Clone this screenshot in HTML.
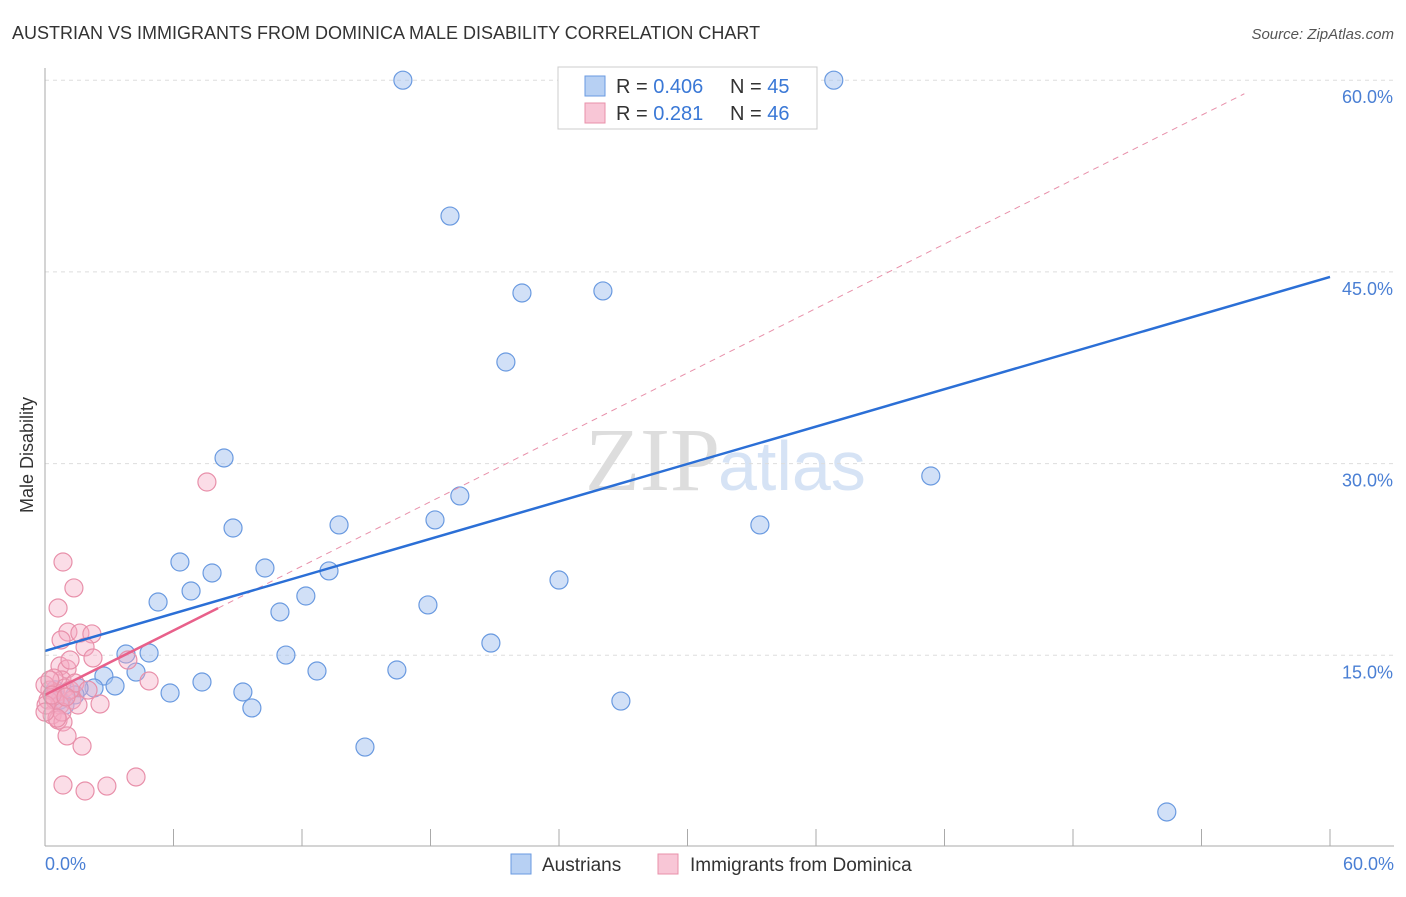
<!DOCTYPE html>
<html><head><meta charset="utf-8"><style>
body{margin:0;background:#fff;font-family:"Liberation Sans",sans-serif;}
</style></head><body>
<svg width="1406" height="892" xmlns="http://www.w3.org/2000/svg" id="chart" style="font-family:'Liberation Sans',sans-serif">
<text x="12" y="39" font-size="18" fill="#333">AUSTRIAN VS IMMIGRANTS FROM DOMINICA MALE DISABILITY CORRELATION CHART</text>
<text x="1394" y="39" font-size="15" fill="#555" text-anchor="end" font-style="italic">Source: ZipAtlas.com</text>
<text x="33" y="455" font-size="18" fill="#333" text-anchor="middle" transform="rotate(-90 33 455)">Male Disability</text>
<text x="720" y="490" font-size="90" fill="#ddd" text-anchor="end" font-family="Liberation Serif">ZIP</text>
<text x="718" y="490" font-size="70" fill="#d6e3f5">atlas</text>
<g id="grid"></g><g id="ticks"></g><g id="pts"></g><g id="lines"></g>
<line x1="45" y1="68" x2="45" y2="846" stroke="#aaa"/>
<line x1="45" y1="846" x2="1394" y2="846" stroke="#aaa"/>
<text x="45" y="870" font-size="18" fill="#4a7fd4">0.0%</text>
<text x="1394" y="870" font-size="18" fill="#4a7fd4" text-anchor="end">60.0%</text>
<g>
<rect x="558" y="67" width="259" height="62" fill="#fff" stroke="#ccc"/>
<rect x="585" y="76" width="20" height="20" fill="#b7d0f3" stroke="#6a9ae0"/>
<rect x="585" y="103" width="20" height="20" fill="#f8c6d6" stroke="#e890aa"/>
<text x="616" y="93" font-size="20" fill="#333">R = <tspan fill="#3a78d6">0.406</tspan></text>
<text x="730" y="93" font-size="20" fill="#333">N = <tspan fill="#3a78d6">45</tspan></text>
<text x="616" y="120" font-size="20" fill="#333">R = <tspan fill="#3a78d6"> 0.281</tspan></text>
<text x="730" y="120" font-size="20" fill="#333">N = <tspan fill="#3a78d6">46</tspan></text>
</g>
<g><rect x="511" y="854" width="20" height="20" fill="#b7d0f3" stroke="#6a9ae0"/><text x="542" y="871" font-size="19" fill="#333">Austrians</text></g>
<g><rect x="658" y="854" width="20" height="20" fill="#f8c6d6" stroke="#e890aa"/><text x="690" y="871" font-size="19" fill="#333">Immigrants from Dominica</text></g>
</svg>
<script>
const yTicks=[15,30,45,60];
const xTickVals=[0,6,12,18,24,30,36,42,48,54,60];
const austriansX=[16.71,36.83,18.91,22.27,26.05,21.52,8.36,41.36,19.37,8.78,13.73,18.21,33.38,6.30,10.27,7.80,13.26,24.00,6.82,5.28,12.18,17.88,10.97,20.82,3.78,4.86,11.25,12.70,16.43,4.25,2.75,3.27,7.33,2.29,1.59,5.84,9.24,9.66,26.89,14.94,52.38,0.70,0.47,1.40,0.93];
const austriansY=[60.0,60.0,49.37,43.35,43.51,37.95,30.44,29.03,27.47,24.96,25.20,25.59,25.20,22.30,21.83,21.44,21.60,20.89,20.03,19.17,19.64,18.94,18.39,15.96,15.10,15.18,15.02,13.77,13.85,13.69,13.38,12.60,12.91,12.44,12.44,12.05,12.13,10.88,11.42,7.82,2.74,11.5,12.3,11.9,11.1];
const dominicaX=[0.84,1.35,0.61,1.07,1.63,2.19,0.75,1.87,2.24,0.70,1.03,0.79,3.87,4.86,7.56,0.42,0.23,0.51,0.93,0.14,1.26,0.70,1.54,0.33,0.61,0.84,2.57,1.03,1.73,0.84,1.87,2.89,4.25,0,0.23,0.47,0.79,1.17,1.40,0.56,0.05,0.33,0.98,2.01,0,1.17];
const dominicaY=[22.3,20.27,18.7,16.82,16.74,16.67,16.2,15.65,14.79,14.16,13.93,13.07,14.63,12.99,28.56,13.22,12.28,12.05,12.44,11.5,11.5,11.11,11.11,10.33,9.94,9.78,11.19,8.69,7.9,4.85,4.38,4.77,5.48,12.68,13.07,11.5,10.56,12.28,12.83,10.09,11.11,11.89,11.74,12.28,10.56,14.63];
const blueFit=[15.34,0.4877]; // intercept, slope
const pinkFit=[11.9,0.84];
const pinkSolidEnd=8.08, pinkDashEnd=56;
const X=v=>45+v*1285/60, Y=v=>847-v*12.78;
const NS='http://www.w3.org/2000/svg';
function mk(tag,attrs,parent){const e=document.createElementNS(NS,tag);for(const k in attrs)e.setAttribute(k,attrs[k]);document.getElementById(parent).appendChild(e);return e;}
yTicks.forEach(t=>{
 const l=mk('line',{x1:45,x2:1394,y1:Y(t),y2:Y(t),stroke:'#ddd','stroke-dasharray':'4,4'},'grid');
 
 
 const tx=mk('text',{x:1393,y:Y(t)+23,'font-size':18,fill:'#4a7fd4','text-anchor':'end'},'grid');
 tx.textContent=t.toFixed(1)+'%';
 
 
});
xTickVals.forEach(t=>{
 const l=mk('line',{x1:X(t),x2:X(t),y1:829,y2:846,stroke:'#aaa'},'ticks');
 
 
});
austriansX.forEach((x,i)=>{
 const c=mk('circle',{cx:X(x),cy:Y(austriansY[i]),r:9,fill:'rgba(164,194,240,0.5)',stroke:'#6a9ae0','stroke-width':1.2},'pts');
 
 
});
dominicaX.forEach((x,i)=>{
 const c=mk('circle',{cx:X(x),cy:Y(dominicaY[i]),r:9,fill:'rgba(244,170,195,0.4)',stroke:'#e890aa','stroke-width':1.2},'pts');
 
 
});
const pd=mk('line',{x1:X(pinkSolidEnd),y1:Y(pinkFit[0]+pinkFit[1]*pinkSolidEnd),x2:X(pinkDashEnd),y2:Y(pinkFit[0]+pinkFit[1]*pinkDashEnd),stroke:'#e890aa','stroke-dasharray':'6,5','stroke-width':1},'lines');


const bl=mk('line',{x1:X(0),y1:Y(blueFit[0]),x2:X(60),y2:Y(blueFit[0]+blueFit[1]*60),stroke:'#2b6fd6','stroke-width':2.5},'lines');


const pl=mk('line',{x1:X(0),y1:Y(pinkFit[0]),x2:X(pinkSolidEnd),y2:Y(pinkFit[0]+pinkFit[1]*pinkSolidEnd),stroke:'#e8608a','stroke-width':2.5},'lines');


</script>
</body></html>
